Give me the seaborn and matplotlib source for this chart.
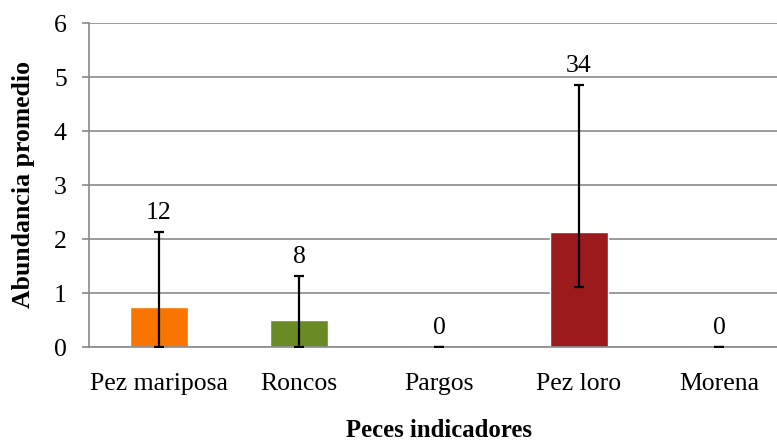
import matplotlib
matplotlib.use("Agg")
import matplotlib.pyplot as plt
import seaborn as sns
import pandas as pd
import numpy as np

categories = ["Pez mariposa", "Roncos", "Pargos", "Pez loro", "Morena"]
means = [0.75, 0.50, 0.0, 2.13, 0.0]
err_low = [0.75, 0.50, 0.0, 1.01, 0.0]
err_high = [1.38, 0.81, 0.0, 2.72, 0.0]
counts = ["12", "8", "0", "34", "0"]
colors = ["#FA7400", "#6A8B23", "#9C9C9C", "#9C1A1B", "#9C9C9C"]
yticks = [0, 1, 2, 3, 4, 5, 6]

sns.set_theme(style="white")
plt.rcParams["font.family"] = ["Liberation Serif", "DejaVu Serif"]

df = pd.DataFrame({"cat": categories, "val": means})

W, H = 777, 444
AW = 777 - 89
fig = plt.figure(figsize=(W / 100, H / 100), dpi=100)
ax = fig.add_axes([89 / W, 97 / H, AW / W, 324 / H])

sns.barplot(data=df, x="cat", y="val", hue="cat", palette=colors,
            legend=False, errorbar=None, width=0.41, saturation=1,
            ax=ax, zorder=2)

xs = np.arange(len(categories))
ax.errorbar(xs, means, yerr=[err_low, err_high], fmt="none", ecolor="black",
            elinewidth=1.6, capsize=3.5, capthick=1.6, zorder=3)

tops = np.array(means) + np.array(err_high)
for x, t, c in zip(xs, tops, counts):
    ax.annotate(c, (x, t), xytext=(0, 6), textcoords="offset points",
                ha="center", va="bottom", fontsize=18.5, color="black")

ax.set_ylim(0, 6)
ax.set_xlim(-0.5, 4.5 - 12 / 140)
ax.set_yticks(yticks)
ax.yaxis.grid(True, color="#8A8A8A", linewidth=1.2, zorder=0)
ax.set_axisbelow(True)
for s in ["top", "right"]:
    ax.spines[s].set_visible(False)
for s in ["left", "bottom"]:
    ax.spines[s].set_color("#8A8A8A")
    ax.spines[s].set_linewidth(1.2)
ax.tick_params(axis="y", left=True, length=5, width=1.2, color="#8A8A8A",
               pad=11, labelsize=18.5, labelcolor="black")
ax.tick_params(axis="x", bottom=False, length=0, pad=19, labelsize=18.5,
               labelcolor="black")
ax.set_xlabel("Peces indicadores", fontsize=17.8, fontweight="bold",
              color="black")
ax.set_ylabel("Abundancia promedio", fontsize=18.5, fontweight="bold",
              color="black")
ax.xaxis.set_label_coords((439 - 89) / AW, -(419 - 347) / 324)
ax.yaxis.set_label_coords(-(89 - 35) / AW, 0.5)

fig.savefig("out.png", dpi=100)
